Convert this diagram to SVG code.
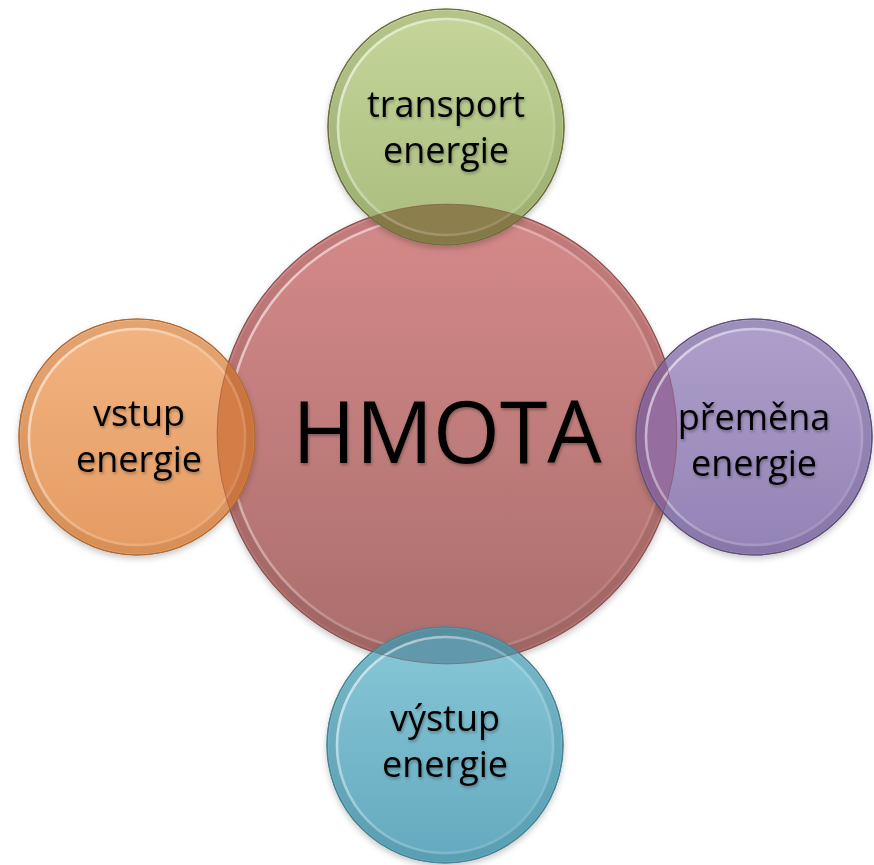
<svg xmlns="http://www.w3.org/2000/svg" width="874" height="865" viewBox="0 0 874 865">
  <defs>
    <style>
      .lbl { font-family: "Open Sans", "Liberation Sans", sans-serif; font-size: 36px; fill: #000; text-anchor: middle; filter: url(#txtShadow); }
      .big { font-family: "Open Sans", "Liberation Sans", sans-serif; font-size: 86px; fill: #000; text-anchor: middle; filter: url(#txtShadow); }
      .ring { fill: none; stroke: url(#ringGrad); stroke-width: 2.5; }
      .inner { fill: none; stroke-width: 7; stroke-opacity: 0.14; }
    </style>
    <filter id="txtShadow" x="-10%" y="-20%" width="120%" height="150%">
      <feDropShadow dx="1" dy="2" stdDeviation="1.5" flood-color="#000" flood-opacity="0.3"/>
    </filter>
    <filter id="blobShadow" x="-10%" y="-10%" width="120%" height="125%">
      <feDropShadow dx="0" dy="3" stdDeviation="3" flood-color="#000" flood-opacity="0.22"/>
    </filter>
    <!-- bevel highlight: bright at the left, fading towards lower right -->
    <linearGradient id="ringGrad" x1="0" y1="0.2" x2="1" y2="0.9">
      <stop offset="0" stop-color="#fff" stop-opacity="0.6"/>
      <stop offset="0.5" stop-color="#fff" stop-opacity="0.22"/>
      <stop offset="1" stop-color="#fff" stop-opacity="0.08"/>
    </linearGradient>
    <linearGradient id="gRed" x1="0" y1="0" x2="0" y2="1">
      <stop offset="0" stop-color="#d68a8a"/>
      <stop offset="1" stop-color="#a96e6c"/>
    </linearGradient>
    <linearGradient id="gGreen" x1="0" y1="0" x2="0" y2="1">
      <stop offset="0" stop-color="#c6d69b"/>
      <stop offset="1" stop-color="#a9bc7d"/>
    </linearGradient>
    <linearGradient id="gOrange" x1="0" y1="0" x2="0" y2="1">
      <stop offset="0" stop-color="#f3b482"/>
      <stop offset="1" stop-color="#e49b62"/>
    </linearGradient>
    <linearGradient id="gPurple" x1="0" y1="0" x2="0" y2="1">
      <stop offset="0" stop-color="#ae9fcb"/>
      <stop offset="1" stop-color="#9283b5"/>
    </linearGradient>
    <linearGradient id="gBlue" x1="0" y1="0" x2="0" y2="1">
      <stop offset="0" stop-color="#88c8d8"/>
      <stop offset="1" stop-color="#64a9be"/>
    </linearGradient>
    <clipPath id="clipCore">
      <circle cx="447" cy="434" r="230"/>
    </clipPath>
  </defs>

  <rect width="874" height="865" fill="#ffffff"/>

  <!-- central circle -->
  <g id="node-hmota">
    <circle cx="447" cy="434" r="230" fill="url(#gRed)" stroke="#8e5957" stroke-width="1.2" filter="url(#blobShadow)"/>
    <circle class="inner" cx="447" cy="434" r="224" stroke="#5a2d2c"/>
    <circle class="ring" cx="447" cy="434" r="219"/>
    <text class="big" x="447" y="463">HMOTA</text>
  </g>

  <g id="connectors"></g>

  <!-- top satellite -->
  <g id="node-transport">
    <circle cx="446" cy="127" r="118" fill="url(#gGreen)" stroke="#7f8f55" stroke-width="1.2" filter="url(#blobShadow)"/>
    <circle cx="446" cy="127" r="118" fill="#8d7e4d" clip-path="url(#clipCore)"/>
    <circle class="inner" cx="446" cy="127" r="113" stroke="#4b5a22"/>
    <circle class="ring" cx="446" cy="127" r="108"/>
    <circle cx="446" cy="127" r="118" fill="none" stroke="#6d6a3e" stroke-width="1.2"/>
    <text class="lbl" x="446" y="117">transport</text>
    <text class="lbl" x="446" y="163">energie</text>
  </g>

  <!-- left satellite -->
  <g id="node-vstup">
    <circle cx="137" cy="437" r="118" fill="url(#gOrange)" stroke="#b9773f" stroke-width="1.2" filter="url(#blobShadow)"/>
    <circle cx="137" cy="437" r="118" fill="#d47d46" clip-path="url(#clipCore)"/>
    <circle class="inner" cx="137" cy="437" r="113" stroke="#8a4a16"/>
    <circle class="ring" cx="137" cy="437" r="108"/>
    <circle cx="137" cy="437" r="118" fill="none" stroke="#b06a35" stroke-width="1.2"/>
    <text class="lbl" x="139" y="426">vstup</text>
    <text class="lbl" x="139" y="472">energie</text>
  </g>

  <!-- right satellite -->
  <g id="node-premena">
    <circle cx="754" cy="437" r="118" fill="url(#gPurple)" stroke="#6d5f8c" stroke-width="1.2" filter="url(#blobShadow)"/>
    <circle cx="754" cy="437" r="118" fill="#956d9e" clip-path="url(#clipCore)"/>
    <circle class="inner" cx="754" cy="437" r="113" stroke="#3e2f5e"/>
    <circle class="ring" cx="754" cy="437" r="108"/>
    <circle cx="754" cy="437" r="118" fill="none" stroke="#5f4d78" stroke-width="1.2"/>
    <text class="lbl" x="754" y="430">přeměna</text>
    <text class="lbl" x="754" y="476">energie</text>
  </g>

  <!-- bottom satellite -->
  <g id="node-vystup">
    <circle cx="445" cy="745" r="118" fill="url(#gBlue)" stroke="#4f8da0" stroke-width="1.2" filter="url(#blobShadow)"/>
    <circle cx="445" cy="745" r="118" fill="#6198ab" clip-path="url(#clipCore)"/>
    <circle class="inner" cx="445" cy="745" r="113" stroke="#1f5a6d"/>
    <circle class="ring" cx="445" cy="745" r="108"/>
    <circle cx="445" cy="745" r="118" fill="none" stroke="#4a8295" stroke-width="1.2"/>
    <text class="lbl" x="445" y="731">výstup</text>
    <text class="lbl" x="445" y="777">energie</text>
  </g>

  <!-- rim of the central circle seen through the overlapping satellites -->
  <circle cx="447" cy="434" r="230" fill="none" stroke="#7a4a48" stroke-width="1" stroke-opacity="0.45"/>
</svg>
